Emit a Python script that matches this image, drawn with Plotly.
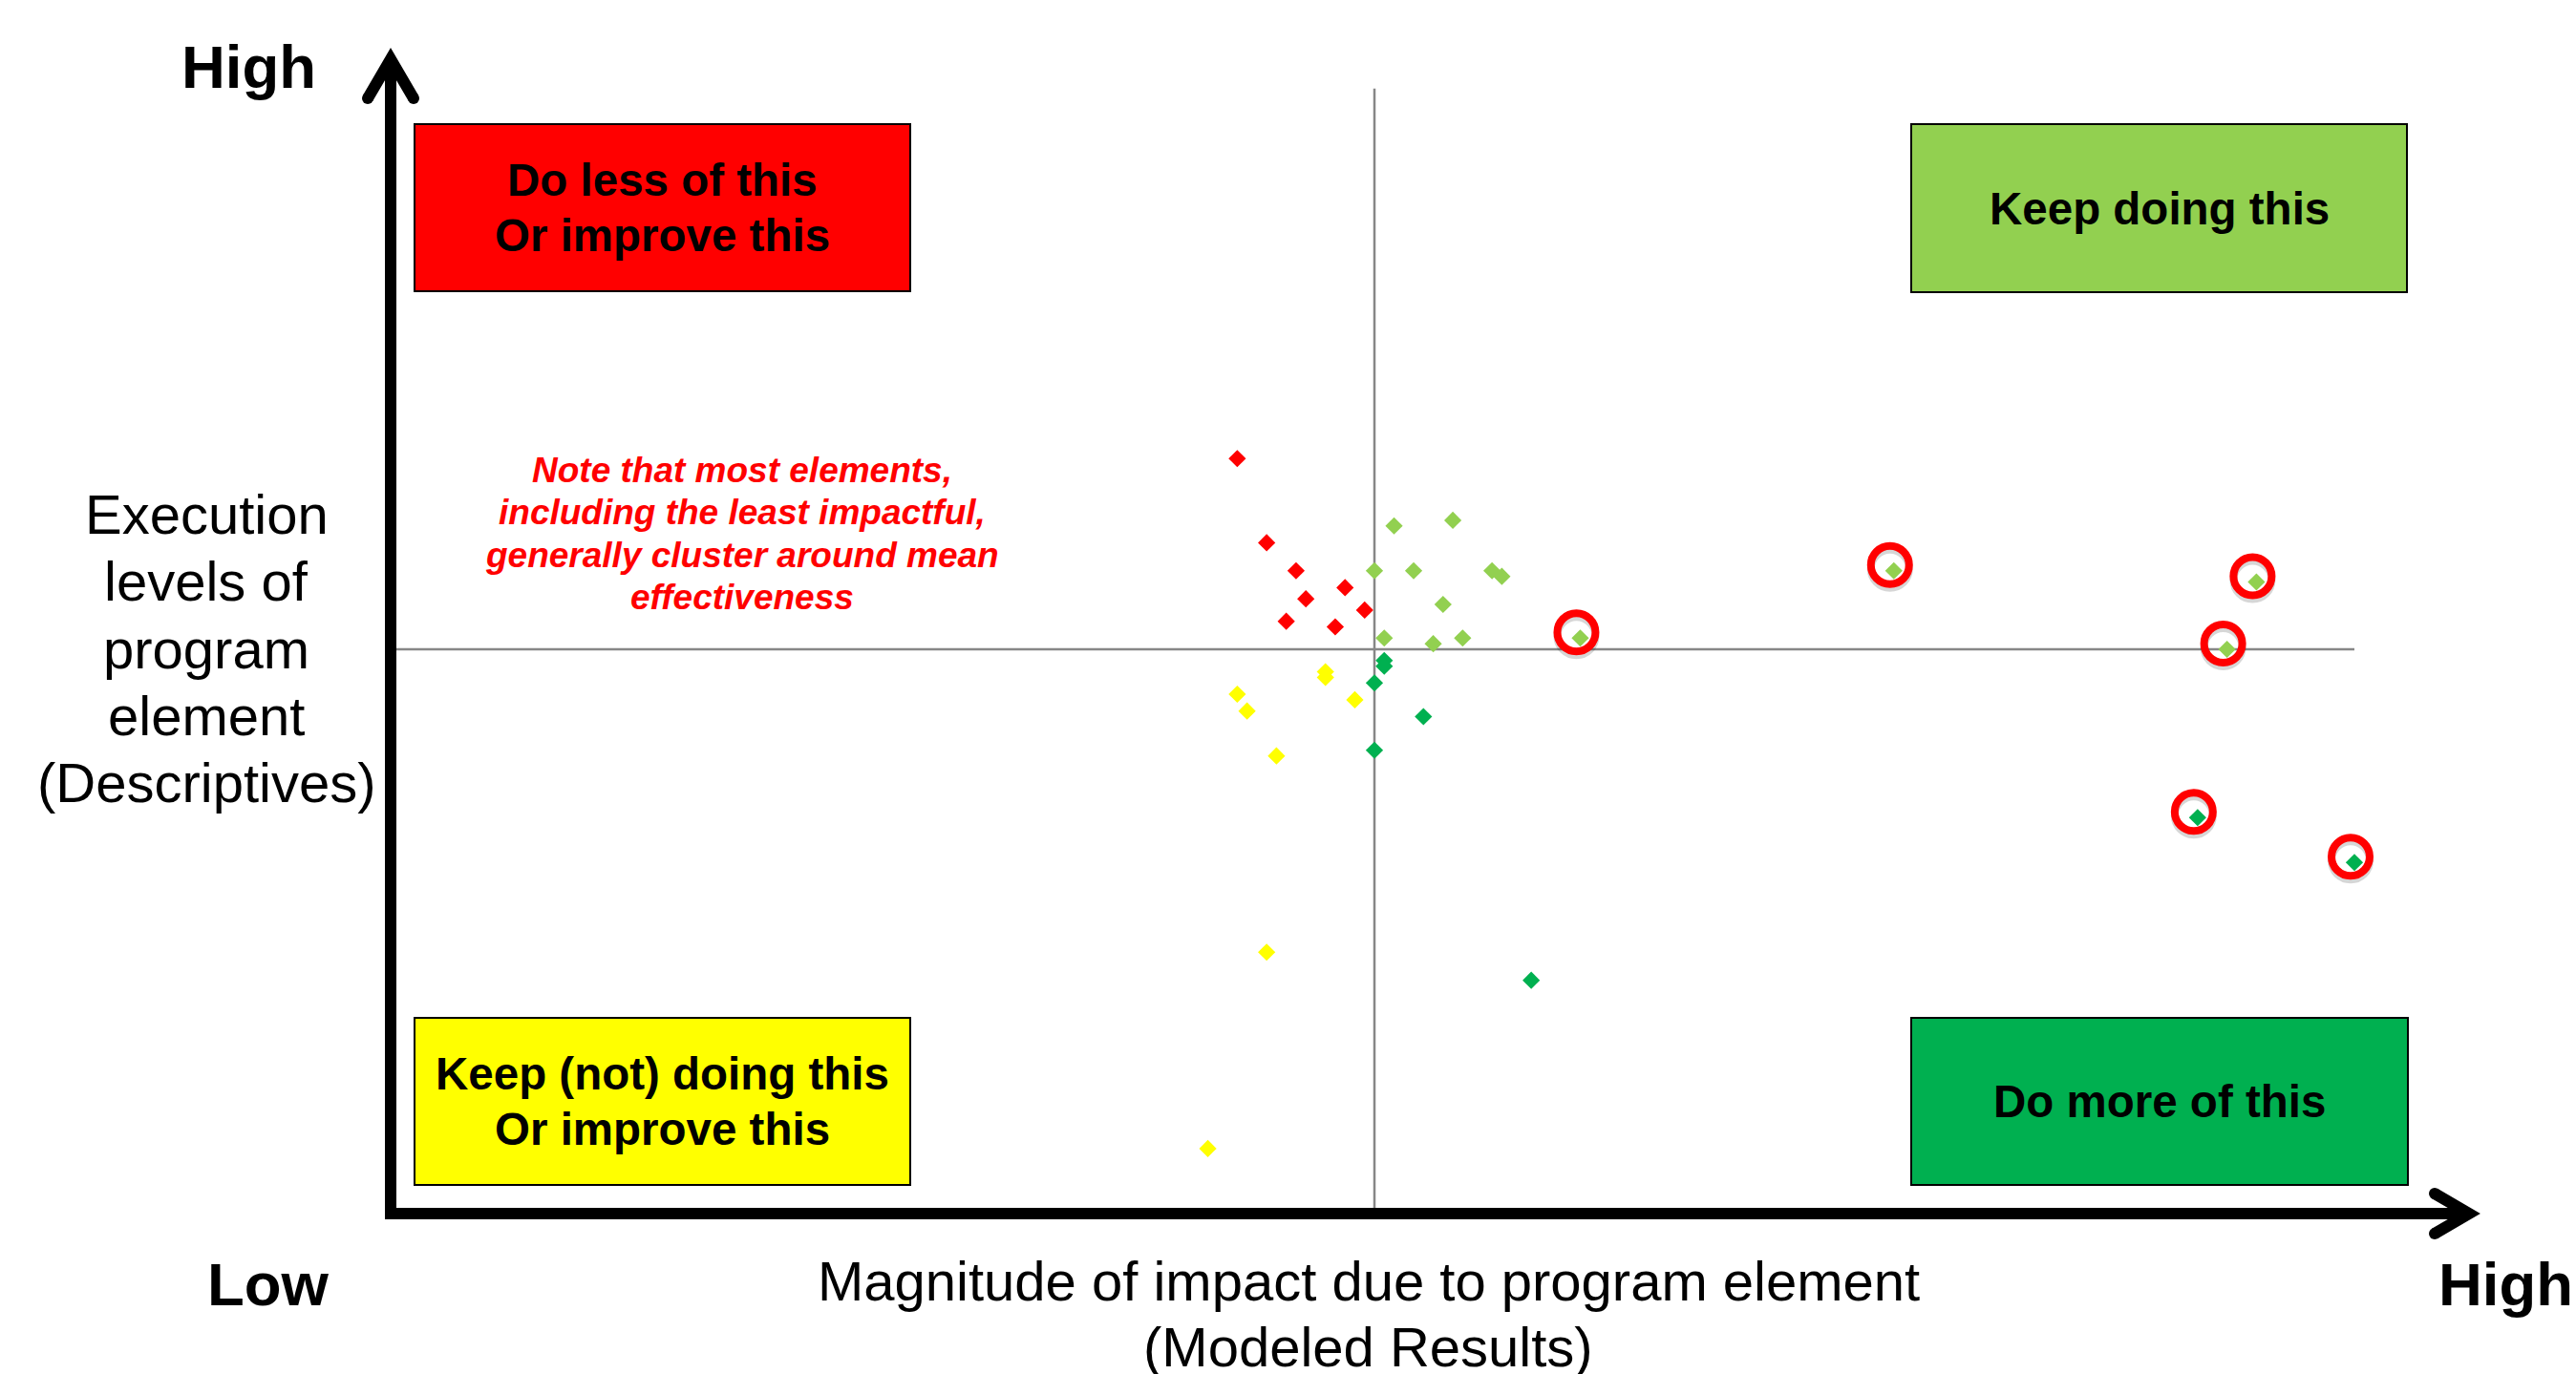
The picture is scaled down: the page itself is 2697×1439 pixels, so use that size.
import plotly.graph_objects as go

W, H = 2697, 1439

# Program elements as deviations from the mean.
# x: magnitude of impact (modeled results), y: execution level (descriptives)
red_x = [-0.14, -0.11, -0.08, -0.03, -0.07, -0.01, -0.09, -0.04]
red_y = [0.34, 0.19, 0.14, 0.11, 0.09, 0.07, 0.05, 0.04]

lightgreen_x = [0.02, 0.08, 0.00, 0.04, 0.12, 0.13, 0.07, 0.01, 0.06, 0.09, 0.21, 0.53, 0.90, 0.87]
lightgreen_y = [0.22, 0.23, 0.14, 0.14, 0.14, 0.13, 0.08, 0.02, 0.01, 0.02, 0.02, 0.14, 0.12, 0.00]

darkgreen_x = [0.01, 0.01, 0.00, 0.05, 0.00, 0.16, 0.84, 1.00]
darkgreen_y = [-0.02, -0.03, -0.06, -0.12, -0.18, -0.59, -0.30, -0.38]

yellow_x = [-0.05, -0.05, -0.14, -0.13, -0.02, -0.10, -0.11, -0.17]
yellow_y = [-0.04, -0.05, -0.08, -0.11, -0.09, -0.19, -0.54, -0.89]

# Elements flagged as the most impactful (circled)
highlight_lightgreen = [10, 11, 12, 13]
highlight_darkgreen = [6, 7]

quadrant_labels = [
    ["Do less of this", "Or improve this"],
    ["Keep doing this"],
    ["Keep (not) doing this", "Or improve this"],
    ["Do more of this"],
]
quadrant_colors = ["#FF0000", "#92D050", "#FFFF00", "#00B050"]

x_title = ["Magnitude of impact due to program element", "(Modeled Results)"]
y_title = ["Execution", "levels of", "program", "element", "(Descriptives)"]
note_lines = ["Note that most elements,", "including the least impactful,",
              "generally cluster around mean", "effectiveness"]

FONT = "Arial, 'Liberation Sans', sans-serif"

# ---- plot area placement (pixels in the page) ----
PX_LEFT, PX_RIGHT = 413, 2465
PX_TOP, PX_BOTTOM = 92.5, 1267.5
X_RANGE = [-1, 1]
Y_RANGE = [-1, 1]
data_per_px_x = (X_RANGE[1] - X_RANGE[0]) / (PX_RIGHT - PX_LEFT)
data_per_px_y = (Y_RANGE[1] - Y_RANGE[0]) / (PX_BOTTOM - PX_TOP)


def px(x):
    return x / W


def py(y):
    return 1 - y / H


annotations = []


def text_block(lines, cx, cy, size, spacing, color="black", bold=False, italic=False):
    """Stack lines of text centred on (cx, cy) with a fixed pixel line spacing."""
    n = len(lines)
    for k, line in enumerate(lines):
        t = line
        if italic:
            t = f"<i>{t}</i>"
        if bold:
            t = f"<b>{t}</b>"
        yc = cy + (k - (n - 1) / 2) * spacing
        annotations.append(dict(x=px(cx), y=py(yc), xref="paper", yref="paper", text=t,
                                showarrow=False, xanchor="center", yanchor="middle",
                                font=dict(family=FONT, size=size, color=color)))


fig = go.Figure()

# highlight rings around the top performers (slightly offset, with a soft shadow)
ring_dx, ring_dy = -4 * data_per_px_x, 6 * data_per_px_y
shadow_dy = -4 * data_per_px_y
hx = [lightgreen_x[i] for i in highlight_lightgreen] + [darkgreen_x[i] for i in highlight_darkgreen]
hy = [lightgreen_y[i] for i in highlight_lightgreen] + [darkgreen_y[i] for i in highlight_darkgreen]

fig.add_trace(go.Scatter(
    x=[v + ring_dx for v in hx], y=[v + ring_dy + shadow_dy for v in hy],
    mode="markers", cliponaxis=False, hoverinfo="skip", showlegend=False,
    marker=dict(symbol="circle-open", size=40, color="rgba(0,0,0,0.16)",
                line=dict(width=8, color="rgba(0,0,0,0.16)")),
))
fig.add_trace(go.Scatter(
    x=[v + ring_dx for v in hx], y=[v + ring_dy for v in hy],
    mode="markers", cliponaxis=False, hoverinfo="skip", showlegend=False,
    marker=dict(symbol="circle-open", size=40, color="#FF0000",
                line=dict(width=8, color="#FF0000")),
))

for xs, ys, col in [(red_x, red_y, "#FF0000"),
                    (lightgreen_x, lightgreen_y, "#92D050"),
                    (darkgreen_x, darkgreen_y, "#00B050"),
                    (yellow_x, yellow_y, "#FFFF00")]:
    fig.add_trace(go.Scatter(
        x=xs, y=ys, mode="markers", cliponaxis=False, hoverinfo="skip",
        showlegend=False,
        marker=dict(symbol="diamond", size=14, color=col, line=dict(width=0)),
    ))

shapes = []

# mean lines (chart axes crossing at the mean)
shapes.append(dict(type="line", xref="x", yref="y", x0=X_RANGE[0], x1=X_RANGE[1], y0=0, y1=0,
                   line=dict(color="#878787", width=2.5), layer="below"))
shapes.append(dict(type="line", xref="x", yref="y", x0=0, x1=0, y0=Y_RANGE[0], y1=Y_RANGE[1],
                   line=dict(color="#878787", width=2.5), layer="below"))

# quadrant boxes
boxes = [
    (434, 130, 953, 305),     # top-left
    (2001, 130, 2520, 306),   # top-right
    (434, 1066, 953, 1241),   # bottom-left
    (2001, 1066, 2521, 1241), # bottom-right
]
for (x0, y0, x1, y1), col, label in zip(boxes, quadrant_colors, quadrant_labels):
    shapes.append(dict(type="rect", xref="paper", yref="paper",
                       x0=px(x0), x1=px(x1), y0=py(y1), y1=py(y0),
                       fillcolor=col, line=dict(color="black", width=2), layer="above"))
    text_block(label, (x0 + x1) / 2, (y0 + y1) / 2, size=47.5, spacing=58, bold=True)

# black axis arrows
AX_W = 12
axis_x, axis_y = 409, 1271
shapes.append(dict(type="line", xref="paper", yref="paper",
                   x0=px(axis_x), x1=px(axis_x), y0=py(axis_y + AX_W / 2), y1=py(62),
                   line=dict(color="black", width=AX_W)))
shapes.append(dict(type="line", xref="paper", yref="paper",
                   x0=px(axis_x - AX_W / 2), x1=px(2585), y0=py(axis_y), y1=py(axis_y),
                   line=dict(color="black", width=AX_W)))
heads = [
    [(385, 103), (409, 62), (433, 103)],
    [(2549, 1250), (2585, 1271), (2549, 1292)],
]
for pts in heads:
    path = "M " + " L ".join(f"{px(a)},{py(b)}" for a, b in pts)
    shapes.append(dict(type="path", xref="paper", yref="paper", path=path,
                       line=dict(color="black", width=AX_W)))
    for a, b in (pts[0], pts[2]):
        r = AX_W / 2
        shapes.append(dict(type="circle", xref="paper", yref="paper",
                           x0=px(a - r), x1=px(a + r), y0=py(b + r), y1=py(b - r),
                           fillcolor="black", line=dict(width=0)))

# axis end labels
for text, cx, cy in [("High", 260, 70), ("Low", 281, 1345), ("High", 2623, 1345)]:
    text_block([text], cx, cy, size=63.5, spacing=0, bold=True)

# axis titles
text_block(y_title, 216, 679, size=58, spacing=70.2)
text_block(x_title, 1433, 1376, size=58, spacing=68.5)

# note
text_block(note_lines, 777, 559, size=37, spacing=44.5, color="#FF0000", bold=True, italic=True)

fig.update_layout(
    width=W, height=H,
    margin=dict(l=0, r=0, t=0, b=0),
    paper_bgcolor="white", plot_bgcolor="white",
    showlegend=False,
    xaxis=dict(domain=[px(PX_LEFT), px(PX_RIGHT)], range=X_RANGE, visible=False, fixedrange=True),
    yaxis=dict(domain=[py(PX_BOTTOM), py(PX_TOP)], range=Y_RANGE, visible=False, fixedrange=True),
    shapes=shapes,
    annotations=annotations,
)

fig.write_html("out.html", config={"displayModeBar": False})
